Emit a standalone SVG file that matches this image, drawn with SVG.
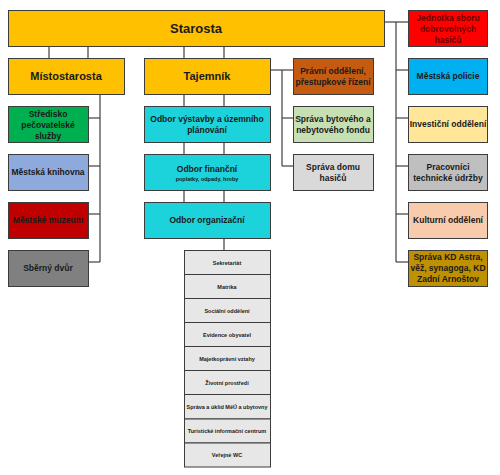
<svg xmlns="http://www.w3.org/2000/svg" width="500" height="475" viewBox="0 0 500 475">
<style>
rect.b{stroke:#3c3c3c;stroke-width:1}
text{font-family:"Liberation Sans",Arial,sans-serif;font-weight:bold;fill:#1a1a1a;text-anchor:middle}
.t8{font-size:8.5px}
.t5{font-size:5.5px}
#connectors line{stroke:#404040;stroke-width:1.2}
</style>
<rect width="500" height="475" fill="#ffffff"/>
<g id="connectors">
<line x1="49" y1="46" x2="49" y2="58"/>
<line x1="88" y1="46" x2="88" y2="58"/>
<line x1="184" y1="46" x2="184" y2="58"/>
<line x1="224" y1="46" x2="224" y2="58"/>
<line x1="184" y1="94" x2="184" y2="106"/>
<line x1="224" y1="94" x2="224" y2="106"/>
<line x1="184" y1="142" x2="184" y2="154"/>
<line x1="224" y1="142" x2="224" y2="154"/>
<line x1="184" y1="190" x2="184" y2="202"/>
<line x1="224" y1="190" x2="224" y2="202"/>
<line x1="224" y1="238" x2="224" y2="250"/>
<line x1="100" y1="94" x2="100" y2="262"/>
<line x1="88" y1="118" x2="100" y2="118"/>
<line x1="88" y1="166" x2="100" y2="166"/>
<line x1="88" y1="214" x2="100" y2="214"/>
<line x1="88" y1="262" x2="100" y2="262"/>
<line x1="270" y1="70" x2="293" y2="70"/>
<line x1="282" y1="70" x2="282" y2="166"/>
<line x1="282" y1="118" x2="293" y2="118"/>
<line x1="282" y1="166" x2="293" y2="166"/>
<line x1="385" y1="22" x2="408" y2="22"/>
<line x1="396" y1="22" x2="396" y2="262"/>
<line x1="396" y1="70" x2="408" y2="70"/>
<line x1="396" y1="118" x2="408" y2="118"/>
<line x1="396" y1="166" x2="408" y2="166"/>
<line x1="396" y1="214" x2="408" y2="214"/>
<line x1="396" y1="262" x2="408" y2="262"/>
</g>
<g id="starosta"><rect class="b" x="8.5" y="10.5" width="376" height="36" fill="#FFC000"/><text x="196" y="33" style="font-size:13px">Starosta</text></g>
<g id="mistostarosta"><rect class="b" x="8.5" y="58.5" width="116" height="36" fill="#FFC000"/><text x="66" y="80" style="font-size:11px">Místostarosta</text></g>
<g id="tajemnik"><rect class="b" x="144.5" y="58.5" width="126" height="36" fill="#FFC000"/><text x="207" y="80" style="font-size:11px">Tajemník</text></g>
<g id="jednotka"><rect class="b" x="408.5" y="10.5" width="79" height="36" fill="#FF0000"/><text class="t8" x="448" y="20.5" style="fill:#6a0000">Jednotka sboru</text><text class="t8" x="448" y="31.5" style="fill:#6a0000">dobrovolných</text><text class="t8" x="448" y="42.5" style="fill:#6a0000">hasičů</text></g>
<g id="policie"><rect class="b" x="408.5" y="58.5" width="79" height="36" fill="#00B0F0"/><text class="t8" x="448" y="79">Městská policie</text></g>
<g id="investicni"><rect class="b" x="408.5" y="106.5" width="79" height="36" fill="#FFE699"/><text class="t8" x="448" y="127">Investiční oddělení</text></g>
<g id="pracovnici"><rect class="b" x="408.5" y="154.5" width="79" height="36" fill="#BFBFBF"/><text class="t8" x="448" y="170">Pracovníci</text><text class="t8" x="448" y="181">technické údržby</text></g>
<g id="kulturni"><rect class="b" x="408.5" y="202.5" width="79" height="36" fill="#F8CBAD"/><text class="t8" x="448" y="223">Kulturní oddělení</text></g>
<g id="kdastra"><rect class="b" x="408.5" y="250.5" width="79" height="36" fill="#BF9000"/><text class="t8" x="448" y="260">Správa KD Astra,</text><text class="t8" x="448" y="271">věž, synagoga, KD</text><text class="t8" x="448" y="282">Zadní Arnoštov</text></g>
<g id="stredisko"><rect class="b" x="8.5" y="106.5" width="80" height="36" fill="#00B050"/><text class="t8" x="48" y="117">Středisko</text><text class="t8" x="48" y="128">pečovatelské</text><text class="t8" x="48" y="139">služby</text></g>
<g id="knihovna"><rect class="b" x="8.5" y="154.5" width="80" height="36" fill="#8EA9DB"/><text class="t8" x="48" y="175">Městská knihovna</text></g>
<g id="muzeum"><rect class="b" x="8.5" y="202.5" width="80" height="36" fill="#C00000"/><text class="t8" x="48" y="223">Městské muzeum</text></g>
<g id="sberny"><rect class="b" x="8.5" y="250.5" width="80" height="36" fill="#808080"/><text class="t8" x="48" y="271">Sběrný dvůr</text></g>
<g id="vystavba"><rect class="b" x="144.5" y="106.5" width="126" height="36" fill="#1DD3DB"/><text class="t8" x="207" y="122">Odbor výstavby a územního</text><text class="t8" x="207" y="133">plánování</text></g>
<g id="financni"><rect class="b" x="144.5" y="154.5" width="126" height="36" fill="#1DD3DB"/><text class="t8" x="207" y="172">Odbor finanční</text><text class="t5" x="207" y="181">poplatky, odpady, hroby</text></g>
<g id="organizacni"><rect class="b" x="144.5" y="202.5" width="126" height="36" fill="#1DD3DB"/><text class="t8" x="207" y="223">Odbor organizační</text></g>
<g id="pravni"><rect class="b" x="293.5" y="58.5" width="80" height="36" fill="#C55A11"/><text class="t8" x="333" y="74">Právní oddělení,</text><text class="t8" x="333" y="85">přestupkové řízení</text></g>
<g id="bytovy"><rect class="b" x="293.5" y="106.5" width="80" height="36" fill="#C6E0B4"/><text class="t8" x="333" y="122">Správa bytového a</text><text class="t8" x="333" y="133">nebytového fondu</text></g>
<g id="domhasicu"><rect class="b" x="293.5" y="154.5" width="80" height="36" fill="#D9D9D9"/><text class="t8" x="333" y="170">Správa domu</text><text class="t8" x="333" y="181">hasičů</text></g>
<g id="seznam">
<rect class="b" x="184.5" y="250.5" width="86" height="24" fill="#E7E7E7"/><text class="t5" x="227" y="264.5">Sekretariát</text>
<rect class="b" x="184.5" y="274.5" width="86" height="24" fill="#E7E7E7"/><text class="t5" x="227" y="288.5">Matrika</text>
<rect class="b" x="184.5" y="298.5" width="86" height="24" fill="#E7E7E7"/><text class="t5" x="227" y="312.5">Sociální oddělení</text>
<rect class="b" x="184.5" y="322.5" width="86" height="24" fill="#E7E7E7"/><text class="t5" x="227" y="336.5">Evidence obyvatel</text>
<rect class="b" x="184.5" y="346.5" width="86" height="24" fill="#E7E7E7"/><text class="t5" x="227" y="360.5">Majetkoprávní vztahy</text>
<rect class="b" x="184.5" y="370.5" width="86" height="24" fill="#E7E7E7"/><text class="t5" x="227" y="384.5">Životní prostředí</text>
<rect class="b" x="184.5" y="394.5" width="86" height="24.5" fill="#E7E7E7"/><text class="t5" x="227" y="408.5">Správa a úklid MěÚ a ubytovny</text>
<rect class="b" x="184.5" y="419" width="86" height="24" fill="#E7E7E7"/><text class="t5" x="227" y="433">Turistické informační centrum</text>
<rect class="b" x="184.5" y="443" width="86" height="24" fill="#E7E7E7"/><text class="t5" x="227" y="457">Veřejné WC</text>
</g>
</svg>
